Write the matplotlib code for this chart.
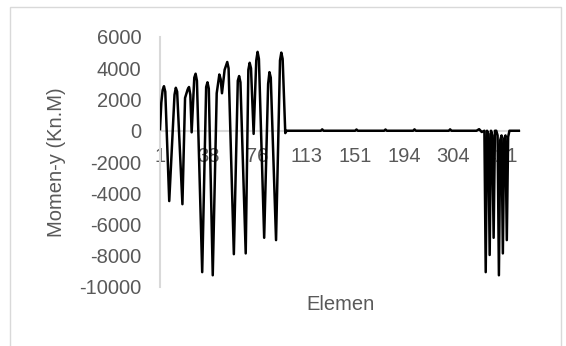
import matplotlib.pyplot as plt
from matplotlib.patches import Rectangle

plt.rcParams['font.family'] = ['Liberation Sans', 'DejaVu Sans']
plt.rcParams['axes.unicode_minus'] = False

# titik sudut grafik: indeks baris data (posisi kategori) dan momen-y
indeks = [0, 1, 2, 3, 4, 7, 11, 12, 13, 17, 19, 21, 22, 23, 24, 26, 27, 28,
          32, 35, 36, 37, 40, 43, 45, 46, 47, 49, 51, 52, 56, 59, 60, 61,
          65, 67, 68, 69, 71, 73, 74, 75, 79, 82, 83, 84, 88, 91, 92, 93,
          95, 96,
          122, 123, 124, 148, 149, 150, 170, 171, 172, 192, 193, 194,
          219, 220, 221, 240, 242, 244, 246,
          247, 248, 249, 250, 251, 252, 253, 254, 255,
          256, 257, 258, 259, 260, 261, 262, 263, 264, 265, 273]
momen = [100, 1800, 2600, 2850, 2500, -4500, 2300, 2750, 2500, -4700, 2100, 2650, 2800, 2300, -100, 3400, 3650, 3200,
         -9050, 2800, 3100, 2700, -9250, 2400, 3600, 3300, 2400, 3900, 4400, 4000, -7900, 3200, 3500, 3100,
         -7850, 3900, 4350, 4000, -200, 4500, 5050, 4600, -6850, 3000, 3750, 3400, -7000, 4500, 5000, 4600,
         -150, 0,
         0, 90, 0, 0, 80, 0, 0, 80, 0, 0, 90, 0,
         0, 90, 0, 0, 100, -80, 0,
         -9050, 0, -200, -7950, 0, -300, -6850, 0, 0,
         -300, -9250, -600, -300, -7850, -500, -300, -7000, -400, 0, 0]

# label kategori yang tampil di sumbu x
pos_label = [0, 37, 74, 111, 148, 185, 222, 259]
label_elemen = ['1', '38', '76', '113', '151', '194', '304', '421']

abu = '#595959'
garis = '#d9d9d9'

fig = plt.figure(figsize=(5.66, 3.46), dpi=100)
ax = fig.add_axes([160/566, 1-287/346, 360/566, 250/346])
ax.plot(indeks, momen, color='black', lw=1.8, zorder=3)

ax.set_xlim(0, 273)
ax.set_ylim(-10000, 6000)
ax.set_yticks(range(-10000, 6001, 2000))
ax.set_xticks(pos_label, label_elemen)

for s in ['top', 'right']:
    ax.spines[s].set_visible(False)
ax.spines['bottom'].set_position(('data', 0))
ax.spines['bottom'].set_color(garis)
ax.spines['left'].set_color(garis)
ax.spines['bottom'].set_linewidth(1.5)
ax.spines['left'].set_linewidth(1.5)

ax.tick_params(axis='both', length=0, labelsize=14.5, labelcolor=abu)
ax.tick_params(axis='y', pad=13.5)
ax.tick_params(axis='x', pad=12)

fig.text(57/566, 1-162/346, 'Momen-y (Kn.M)', rotation=90, ha='center', va='center',
         fontsize=14.5, color=abu)
fig.text(340/566, 1-305/346, 'Elemen', ha='center', va='center', fontsize=14.5, color=abu)

# bingkai area grafik
fig.patches.append(Rectangle((10/566, -0.05), 551/566, 1.05-7/346, transform=fig.transFigure,
                             fill=False, edgecolor=garis, lw=1))

fig.savefig('out.png', dpi=100)
